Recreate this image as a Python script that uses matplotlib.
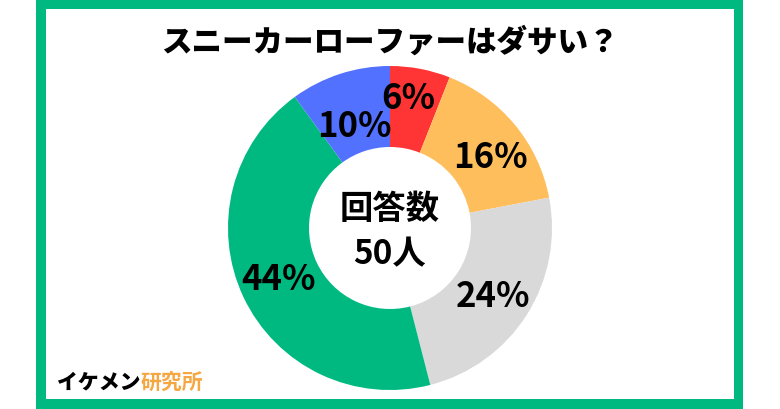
import matplotlib
matplotlib.use("Agg")
import matplotlib.pyplot as plt
from matplotlib.patches import Rectangle
import numpy as np

plt.rcParams["font.family"] = ["Noto Sans CJK JP", "DejaVu Sans"]

# =========================================
# DATA
# =========================================
TITLE = "スニーカーローファーはダサい？"
labels = ["ダサい", "ややダサい", "どちらともいえない", "ダサくない", "その他"]
shares = [6, 16, 24, 44, 10]
colors = ["#FF3434", "#FFBE5C", "#D9D9D9", "#00B981", "#5271FF"]
center_text = "回答数\n50人"

# label placement (radius fraction, angle nudge in degrees)
LABEL_R = [0.81, 0.76, 0.76, 0.755, 0.67]
LABEL_DA = [3, -4, -1, -1, 1]

W, H = 780, 410
GREEN = "#00B981"

fig = plt.figure(figsize=(W / 100, H / 100), dpi=100)
fig.patch.set_facecolor("white")

# frame
fig.patches.append(Rectangle((36 / W, 0), (743 - 36) / W, 1,
                             transform=fig.transFigure, facecolor=GREEN,
                             edgecolor="none", zorder=-2))
fig.patches.append(Rectangle((46 / W, 10 / H), (734 - 46) / W, (400 - 10) / H,
                             transform=fig.transFigure, facecolor="white",
                             edgecolor="none", zorder=-1))

# donut
cx, cy, r = 390, 410 - 229, 162
ax = fig.add_axes([(cx - r) / W, (cy - r) / H, 2 * r / W, 2 * r / H])
ax.set_zorder(2)
ax.patch.set_alpha(0)
wedges, _ = ax.pie(
    shares,
    colors=colors,
    startangle=90,
    counterclock=False,
    radius=1,
    wedgeprops=dict(width=0.5, edgecolor="none"),
)
for w, val, rr, da in zip(wedges, shares, LABEL_R, LABEL_DA):
    ang = np.deg2rad((w.theta1 + w.theta2) / 2 + da)
    ax.text(rr * np.cos(ang), rr * np.sin(ang), f"{val}%",
            ha="center", va="center", fontsize=25, fontweight="bold",
            color="black")
ax.set_aspect("equal")
ax.set_xlim(-1, 1)
ax.set_ylim(-1, 1)

ax.text(0, -0.02, center_text, ha="center", va="center", fontsize=24,
        fontweight="bold", linespacing=1.45)

# title
fig.text(390 / W, 1 - 42 / H, TITLE, ha="center", va="center",
         fontsize=22, fontweight="black")

# logo
t1 = fig.text(57 / W, 1 - 382 / H, "イケメン", ha="left", va="center",
              fontsize=15, fontweight="black", color="black")
fig.canvas.draw()
bb = t1.get_window_extent()
fig.text(bb.x1 / W, 1 - 382 / H, "研究所", ha="left", va="center",
         fontsize=15, fontweight="bold", color="#F5A742")

fig.savefig("out.png", dpi=100)
